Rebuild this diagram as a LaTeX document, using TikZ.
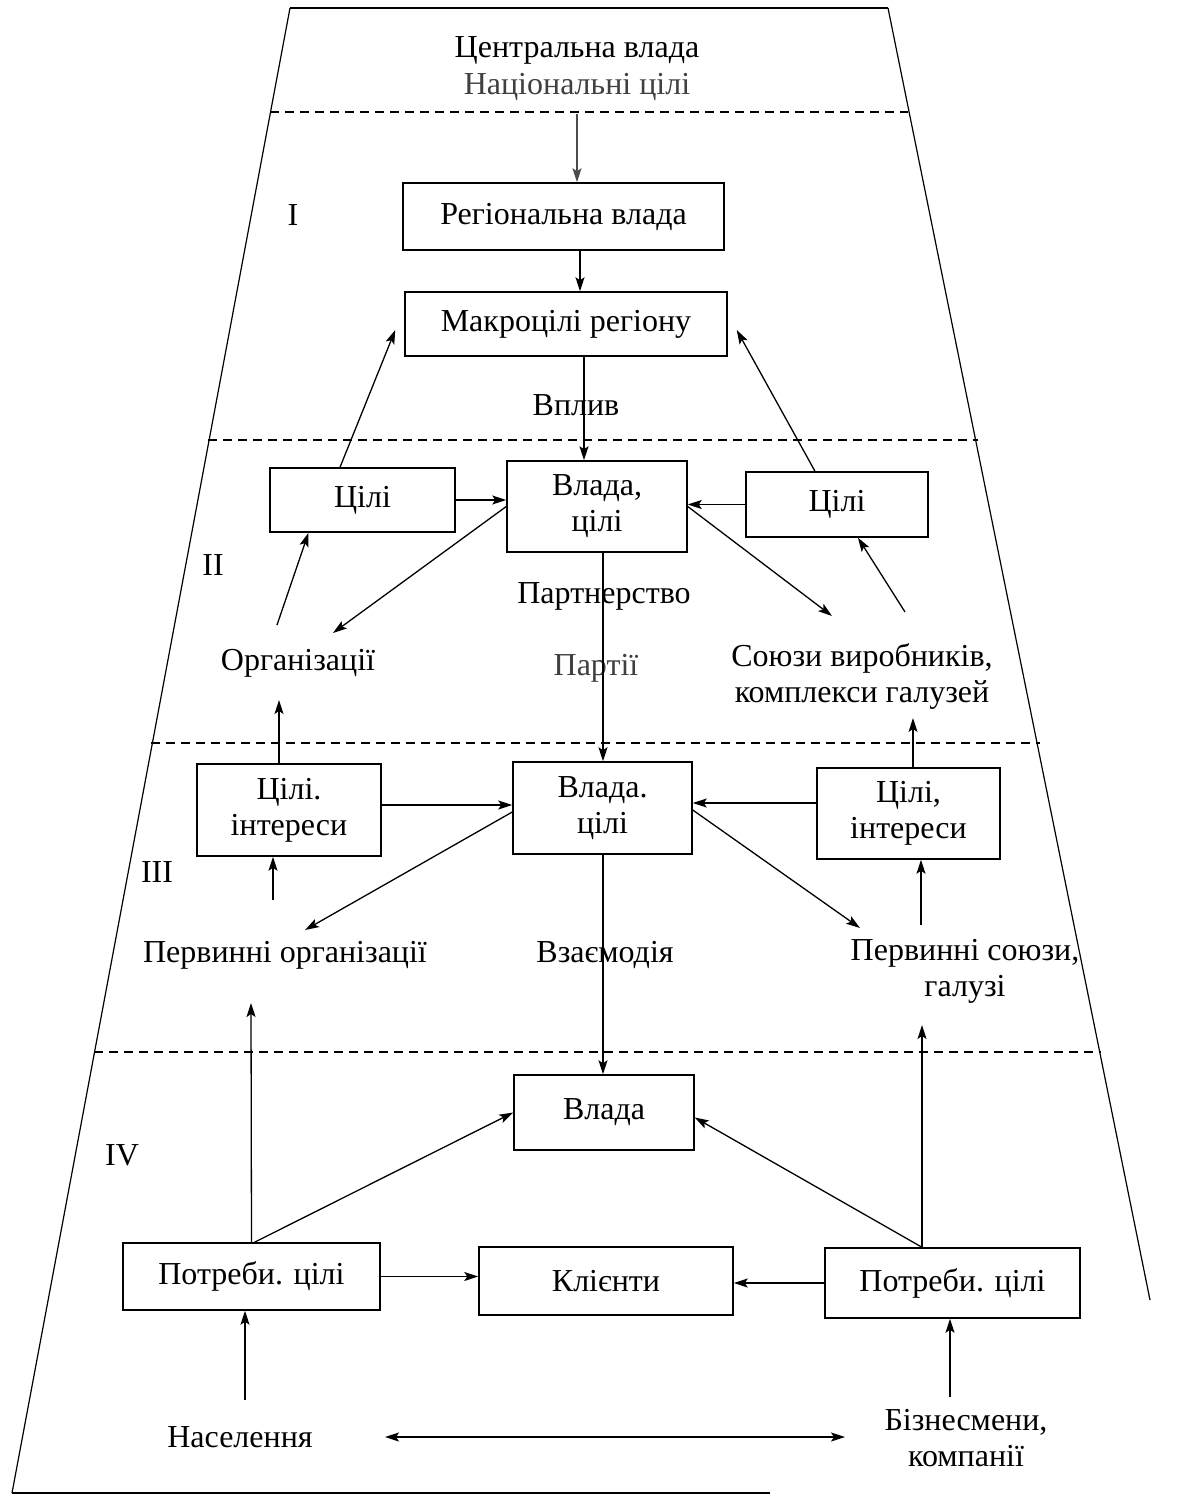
\documentclass[tikz,border=0pt]{standalone}
\usepackage{fontspec}
\setmainfont{Liberation Serif}
\usetikzlibrary{arrows.meta}
\begin{document}
\begin{tikzpicture}[x=1pt,y=-1pt,
  txt/.style={font=\fontsize{32}{36}\selectfont, inner sep=0pt, align=center},
  box/.style={txt, draw, line width=1.5pt},
  lbl/.style={txt},
  arr/.style={line width=1.3pt, -{Stealth[length=14pt,width=9pt,inset=3pt]}},
  darr/.style={line width=1.3pt, {Stealth[length=14pt,width=9pt,inset=3pt]}-{Stealth[length=14pt,width=9pt,inset=3pt]}},
  sep/.style={line width=1.6pt, dash pattern=on 9pt off 6pt}]
\useasboundingbox (0,0) rectangle (1191,1497);
% frame
\draw[line width=1.2pt] (12,1493) -- (290,8);
\draw[line width=2pt] (290,8) -- (888,8);
\draw[line width=1.2pt] (888,8) -- (1150,1300);
\draw[line width=2.2pt] (12,1493) -- (770,1493);
% separators
\draw[sep] (270,112) -- (908,112);
\draw[sep] (208,440) -- (978,440);
\draw[sep] (151,743) -- (1040,743);
\draw[sep] (94,1052) -- (1101,1052);
% level numerals
\node[lbl] (n1) at (293,215) {I};
\node[lbl] (n2) at (213,565) {II};
\node[lbl] (n3) at (157,872) {III};
\node[lbl] (n4) at (122,1155) {IV};
% top
\node[lbl] (cv) at (577,50) {Центральна влада};
\node[lbl, text=black!75] (nc) at (577,87) {Національні цілі};
\coordinate (d1) at (577,114);
% level I
\node[box, minimum width=321, minimum height=67] (rv) at (563.5,216.5) {Регіональна влада};
\node[box, minimum width=322, minimum height=64] (mr) at (566,324) {Макроцілі регіону};
% level II
\node[box, minimum width=185, minimum height=64] (c2l) at (362.5,500) {Цілі};
\node[box, minimum width=180, minimum height=91] (v2) at (597,506.5) {Влада,\\цілі};
\node[box, minimum width=182, minimum height=65] (c2r) at (837,504.5) {Цілі};
\node[lbl] (org) at (298,663) {Організації};
\node[lbl] (soyuz) at (862,676) {Союзи виробників,\\комплекси галузей};
% level III
\node[box, minimum width=184, minimum height=92] (c3l) at (289,810) {Цілі.\\інтереси};
\node[box, minimum width=179, minimum height=92] (v3) at (602.5,808) {Влада.\\цілі};
\node[box, minimum width=183, minimum height=91] (c3r) at (908.5,813.5) {Цілі,\\інтереси};
\node[lbl] (porg) at (285,955) {Первинні організації};
\node[lbl] (psoyuz) at (965,971) {Первинні союзи,\\галузі};
% level IV
\node[box, minimum width=180, minimum height=75] (v4) at (604,1112.5) {Влада};
\node[box, minimum width=257, minimum height=67] (p4l) at (251.5,1276.5) {Потреби. цілі};
\node[box, minimum width=254, minimum height=68] (kl) at (606,1281) {Клієнти};
\node[box, minimum width=255, minimum height=70] (p4r) at (952.5,1283) {Потреби. цілі};
\node[lbl] (nas) at (240,1437) {Населення};
\node[lbl] (biz) at (966,1438) {Бізнесмени,\\компанії};
% spine labels (the line runs through them)
\node[lbl] (vplyv) at (576,405) {Вплив};
\node[lbl] (partn) at (604,596) {Партнерство};
\node[lbl, text=black!75] (parti) at (596,668) {Партії};
\node[lbl] (vzaem) at (605,955) {Взаємодія};
% vertical spine
\draw[arr, black!70] (d1) -- (d1 |- rv.north);
\draw[arr] ([xshift=16.5]rv.south) -- ([xshift=14]mr.north);
\draw[arr] ([xshift=18]mr.south) -- ([xshift=-13]v2.north);
\draw[arr] ([xshift=6]v2.south) -- ([xshift=0.5]v3.north);
\draw[arr] ([xshift=0.5]v3.south) -- ([xshift=-1]v4.north);
% level II arrows
\draw[arr] ([xshift=-22.5]c2l.north) -- ([xshift=-9,yshift=-6]mr.west);
\draw[arr] ([xshift=-22]c2r.north) -- ([xshift=9,yshift=-6]mr.east);
\draw[arr] (c2l.east) -- (c2l.east -| v2.west);
\draw[arr] (c2r.west) -- (c2r.west -| v2.east);
\draw[arr] (v2.west) -- ([shift={(35,-30)}]org.center);
\draw[arr] (v2.east) -- ([shift={(-30,-60)}]soyuz.center);
\draw[arr] ([shift={(-21,-38)}]org.center) -- ([xshift=-54]c2l.south);
\draw[arr] ([shift={(43,-64)}]soyuz.center) -- ([xshift=21]c2r.south);
% level III arrows
\draw[arr] ([xshift=-10]c3l.north) -- ([shift={(-19,37)}]org.center);
\draw[arr] ([xshift=4.5]c3r.north) -- ([shift={(51,42)}]soyuz.center);
\draw[arr] ([yshift=5]c3l.east) -- ([yshift=3]v3.west);
\draw[arr] ([yshift=10.5]c3r.west) -- ([yshift=5]v3.east);
\draw[arr] ([yshift=-4]v3.west) -- ([shift={(20,-25)}]porg.center);
\draw[arr] ([yshift=-2]v3.east) -- ([shift={(-105,-43)}]psoyuz.center);
\draw[arr] ([shift={(-12,-55)}]porg.center) -- ([xshift=-16]c3l.south);
\draw[arr] ([shift={(-44,-46)}]psoyuz.center) -- ([xshift=12.5]c3r.south);
% level IV arrows
\draw[arr] (p4l.north) -- ([shift={(-34,48)}]porg.center);
\draw[arr] ([xshift=-30.5]p4r.north) -- ([shift={(-43,54)}]psoyuz.center);
\draw[arr] ([xshift=3]p4l.north) -- (v4.west);
\draw[arr] ([xshift=-30.5]p4r.north) -- ([yshift=-5]v4.east);
\draw[arr] (p4l.east) -- (p4l.east -| kl.west);
\draw[arr] (p4r.west) -- (p4r.west -| kl.east);
\draw[arr] ([shift={(5,-37)}]nas.center) -- ([xshift=-6.5]p4l.south);
\draw[arr] ([shift={(-16,-41)}]biz.center) -- ([xshift=-2.5]p4r.south);
\draw[darr] ([shift={(145,0)}]nas.center) -- ([shift={(-121,-1)}]biz.center);
\end{tikzpicture}
\end{document}
